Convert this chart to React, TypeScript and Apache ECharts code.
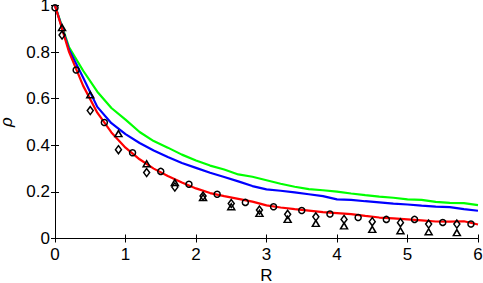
import React, { useEffect, useRef } from "react";
import * as echarts from "echarts";

const lineX = [0, 0.2, 0.4, 0.6, 0.8, 1.0, 1.2, 1.4, 1.6, 1.8, 2.0, 2.2, 2.4, 2.6, 2.8, 3.0, 3.2, 3.4, 3.6, 3.8, 4.0, 4.2, 4.4, 4.6, 4.8, 5.0, 5.2, 5.4, 5.6, 5.8, 6.0];
const redLine = [1, 0.8, 0.655, 0.54, 0.455, 0.39, 0.34, 0.3, 0.268, 0.24, 0.215, 0.195, 0.182, 0.17, 0.158, 0.142, 0.133, 0.126, 0.12, 0.113, 0.109, 0.105, 0.097, 0.09, 0.086, 0.082, 0.078, 0.073, 0.072, 0.074, 0.06];
const blueLine = [1, 0.81, 0.69, 0.565, 0.495, 0.448, 0.41, 0.378, 0.35, 0.324, 0.303, 0.282, 0.264, 0.245, 0.225, 0.211, 0.205, 0.198, 0.19, 0.182, 0.168, 0.166, 0.16, 0.155, 0.15, 0.146, 0.141, 0.137, 0.135, 0.126, 0.119];
const greenLine = [1, 0.82, 0.72, 0.63, 0.56, 0.51, 0.457, 0.418, 0.39, 0.36, 0.335, 0.313, 0.296, 0.275, 0.265, 0.25, 0.235, 0.222, 0.212, 0.207, 0.201, 0.193, 0.186, 0.18, 0.175, 0.168, 0.166, 0.157, 0.153, 0.152, 0.143];

const circleX = [0, 0.3, 0.7, 1.1, 1.5, 1.9, 2.3, 2.7, 3.1, 3.5, 3.9, 4.3, 4.7, 5.1, 5.5, 5.9];
const circleY = [0.99, 0.723, 0.498, 0.368, 0.288, 0.233, 0.19, 0.155, 0.136, 0.12, 0.105, 0.09, 0.082, 0.082, 0.069, 0.062];

const markX = [0.1, 0.5, 0.9, 1.3, 1.7, 2.1, 2.5, 2.9, 3.3, 3.7, 4.1, 4.5, 4.9, 5.3, 5.7];
const triangleY = [0.905, 0.617, 0.45, 0.321, 0.24, 0.176, 0.136, 0.108, 0.082, 0.065, 0.054, 0.039, 0.033, 0.029, 0.025];
const diamondY = [0.873, 0.549, 0.381, 0.283, 0.221, 0.182, 0.15, 0.122, 0.104, 0.093, 0.082, 0.072, 0.068, 0.062, 0.062];

const xTicks = [0, 1, 2, 3, 4, 5, 6];
const yTicks = [0, 0.2, 0.4, 0.6, 0.8, 1];

const zip = (xs: number[], ys: number[]) => xs.map((x, i) => [x, ys[i]]);

const FONT = "'Liberation Sans', Arial, sans-serif";

export default function App() {
  const ref = useRef<HTMLDivElement>(null);
  useEffect(() => {
    if (!ref.current) return;
    const chart = echarts.init(ref.current, undefined, { renderer: "svg" });
    const axisLine = { show: true, lineStyle: { color: "#000", width: 1 } };
    const tick = { show: true, inside: true, length: 4, lineStyle: { color: "#000" } };
    const lineSeries = (data: number[], color: string) => ({
      type: "line",
      data: zip(lineX, data),
      showSymbol: false,
      lineStyle: { color, width: 2.2 },
      itemStyle: { color },
      z: 2,
    });
    const markSeries = (xs: number[], ys: number[], symbol: string, size: any) => ({
      type: "scatter",
      data: zip(xs, ys),
      symbol,
      symbolSize: size,
      itemStyle: { color: "rgba(0,0,0,0)", borderColor: "#000", borderWidth: 1.5, opacity: 1 },
      z: 3,
    });
    chart.setOption({
      animation: false,
      grid: { left: 55, right: 5, top: 5.5, bottom: 44.5, containLabel: false, outerBoundsMode: "none" },
      xAxis: [
        {
          type: "value",
          min: 0,
          max: 6,
          interval: 1,
          name: "R",
          nameLocation: "middle",
          nameGap: 28,
          nameTextStyle: { fontFamily: FONT, fontSize: 17, color: "#000" },
          axisLine,
          axisTick: tick,
          splitLine: { show: false },
          axisLabel: {
            fontFamily: FONT,
            fontSize: 17,
            color: "#000",
            margin: 7,
            formatter: (v: number) => (xTicks.includes(v) ? String(v) : ""),
          },
        },
        {
          type: "value",
          position: "top",
          min: 0,
          max: 6,
          interval: 1,
          axisLine,
          axisTick: tick,
          splitLine: { show: false },
          axisLabel: { show: false },
        },
      ],
      yAxis: [
        {
          type: "value",
          min: 0,
          max: 1,
          interval: 0.2,
          name: "ρ",
          nameLocation: "middle",
          nameRotate: 90,
          nameGap: 35,
          nameTextStyle: { fontFamily: FONT, fontSize: 17, fontStyle: "italic", color: "#000" },
          axisLine,
          axisTick: tick,
          splitLine: { show: false },
          axisLabel: {
            fontFamily: FONT,
            fontSize: 17,
            color: "#000",
            margin: 5,
            formatter: (v: number) => {
              const t = yTicks.find((y) => Math.abs(y - v) < 1e-6);
              return t === undefined ? "" : String(t);
            },
          },
        },
        {
          type: "value",
          position: "right",
          min: 0,
          max: 1,
          interval: 0.2,
          axisLine,
          axisTick: tick,
          splitLine: { show: false },
          axisLabel: { show: false },
        },
      ],
      series: [
        lineSeries(greenLine, "#00ff00"),
        lineSeries(blueLine, "#0000ff"),
        lineSeries(redLine, "#ff0000"),
        markSeries(circleX, circleY, "circle", 6),
        markSeries(markX, triangleY, "triangle", [7, 6]),
        markSeries(markX, diamondY, "diamond", [6, 8]),
      ],
    });
    return () => chart.dispose();
  }, []);
  return <div ref={ref} style={{ width: 483, height: 283, position: "absolute", left: 0, top: 0 }} />;
}
